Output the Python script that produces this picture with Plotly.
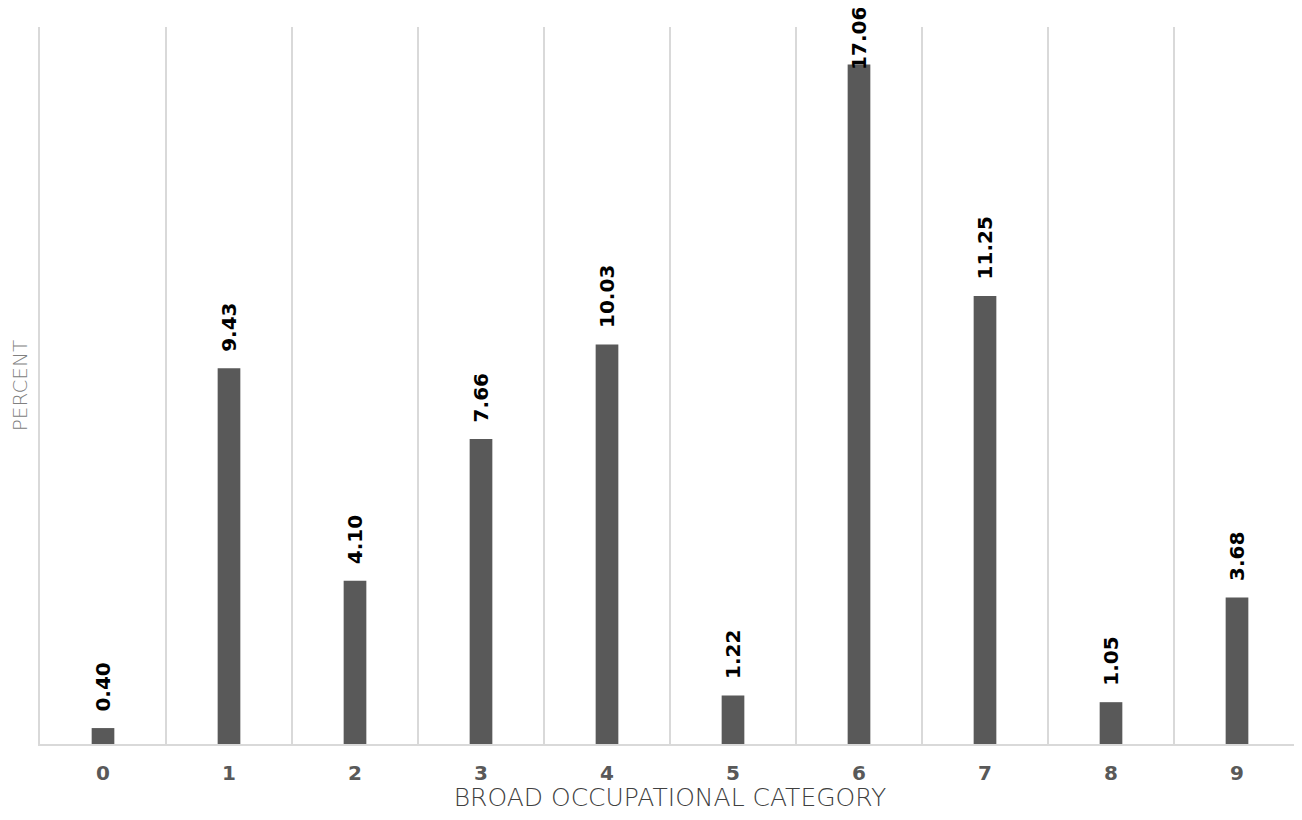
import plotly.graph_objects as go

categories = ["0", "1", "2", "3", "4", "5", "6", "7", "8", "9"]
values = [0.40, 9.43, 4.10, 7.66, 10.03, 1.22, 17.06, 11.25, 1.05, 3.68]
labels = [f"{v:.2f}" for v in values]

fig = go.Figure(go.Bar(
    x=categories, y=values, width=0.18,
    marker=dict(color="#595959", line=dict(width=0)),
    cliponaxis=False, hoverinfo="x+y",
))

vmax = max(values)
for c, v, t in zip(categories, values, labels):
    fig.add_annotation(
        x=c, y=v, xref="x", yref="y", text=t, showarrow=False,
        textangle=-90, xanchor="center", yanchor="bottom",
        yshift=(-8 if v == vmax else 14),
        font=dict(family="DejaVu Sans", size=20, color="#000000", weight="bold"),
    )

fig.update_layout(
    width=1294, height=804,
    margin=dict(l=32, r=2, t=19, b=68, autoexpand=False),
    plot_bgcolor="white", paper_bgcolor="white",
    showlegend=False,
    xaxis=dict(
        type="category", tickson="boundaries", showgrid=True,
        gridcolor="#d9d9d9", gridwidth=1.5,
        showline=True, linecolor="#d9d9d9", linewidth=1.5,
        ticks="", automargin=False, ticklabelstandoff=10,
        tickfont=dict(family="DejaVu Sans", size=20, color="#595959", weight="bold"),
        title=dict(text="BROAD OCCUPATIONAL CATEGORY", standoff=8,
                   font=dict(family="DejaVu Sans", size=25, color="#404040", weight=200)),
        range=[-0.5, 9.5],
    ),
    yaxis=dict(
        range=[0, 18], showgrid=False, zeroline=False, showticklabels=False,
        showline=True, linecolor="#d9d9d9", linewidth=1.5, mirror=True,
        automargin=False,
        title=dict(text="PERCENT", standoff=6,
                   font=dict(family="DejaVu Sans", size=20, color="#808080", weight=200)),
    ),
)

fig.write_html("out.html")
